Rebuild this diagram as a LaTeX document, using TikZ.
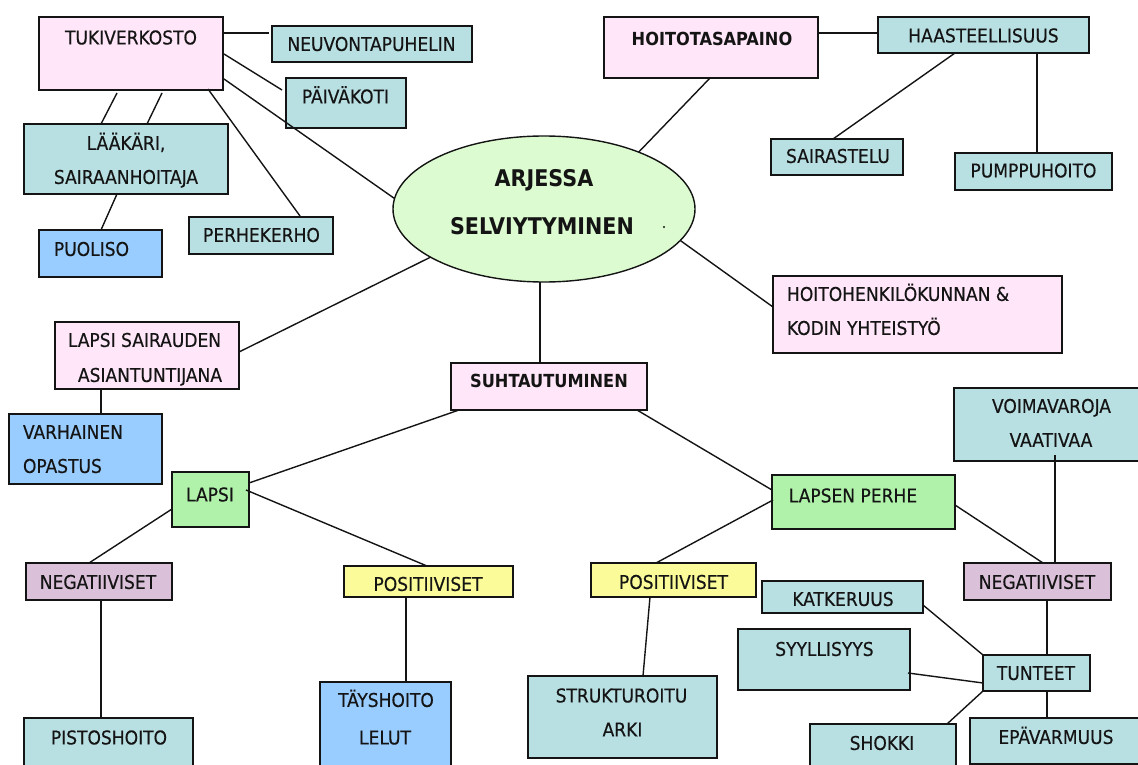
\documentclass[tikz,border=0pt]{standalone}
\usepackage{fontspec}
\setmainfont{DejaVu Sans Condensed}
\newfontfamily\regfont{DejaVu Sans Condensed}[FakeBold=0.35]
\usetikzlibrary{shapes.geometric,calc}
\definecolor{pinkc}{HTML}{FFE6F8}
\definecolor{tealc}{HTML}{B8DFE2}
\definecolor{bluec}{HTML}{99CCFF}
\definecolor{greenc}{HTML}{B0F2AA}
\definecolor{ellc}{HTML}{DDFBD0}
\definecolor{purplec}{HTML}{DBC0D9}
\definecolor{yellowc}{HTML}{FBFC99}
\definecolor{inkc}{HTML}{141414}
\tikzset{
  bxs/.style={draw=inkc, line width=1.7pt, rectangle, inner sep=0pt, outer sep=0pt},
  tx/.style={inner sep=0pt, outer sep=0pt, text height=13.85pt, text depth=0pt, text=inkc, font=\regfont\fontsize{19}{22}\selectfont},
  txb/.style={tx, text height=13.1pt, font=\fontsize{18}{22}\selectfont\bfseries},
  txbig/.style={tx, text height=16.8pt, font=\fontsize{23}{26}\selectfont\bfseries},
  con/.style={line width=1.4pt, draw=inkc},
}
\newcommand\bx[6]{\node[bxs,fill=#6,minimum width={#4-#2},minimum height={#5-#3}] (#1) at ({(#2+#4)/2},{(#3+#5)/2}) {};}
\newcommand\rel[3]{($(#1.north west)+(#2,#3)$)}
\begin{document}
\begin{tikzpicture}[x=1pt,y=-1pt]
\useasboundingbox (0,0) rectangle (1138,765);
% ---- boxes
\bx{tuki}{39}{17}{223}{90}{pinkc}
\bx{neuv}{272}{26}{472}{62}{tealc}
\bx{paiv}{286}{78}{406}{128}{tealc}
\bx{laak}{24}{124}{228}{194}{tealc}
\bx{puol}{39}{230}{162}{277}{bluec}
\bx{perhek}{189}{217}{333}{254}{tealc}
\bx{hoito}{604}{17}{818}{78}{pinkc}
\bx{haast}{878}{17}{1089}{53}{tealc}
\bx{sair}{771}{139}{903}{175}{tealc}
\bx{pump}{955}{153}{1112}{190}{tealc}
\bx{hoitoh}{773}{276}{1062}{353}{pinkc}
\bx{lapsis}{55}{322}{239}{389}{pinkc}
\bx{varh}{9}{414}{162}{484}{bluec}
\bx{suht}{451}{363}{647}{410}{pinkc}
\bx{lapsi}{172}{472}{249}{527}{greenc}
\bx{lperhe}{772}{475}{955}{529}{greenc}
\bx{voima}{954}{388}{1150}{461}{tealc}
\bx{negL}{26}{563}{172}{600}{purplec}
\bx{posL}{344}{566}{513}{597}{yellowc}
\bx{posR}{591}{563}{756}{597}{yellowc}
\bx{negR}{964}{563}{1111}{600}{purplec}
\bx{katk}{762}{581}{923}{613}{tealc}
\bx{syyl}{738}{629}{910}{690}{tealc}
\bx{tunt}{983}{655}{1090}{691}{tealc}
\bx{pisto}{24}{718}{193}{768}{tealc}
\bx{tays}{320}{682}{451}{768}{bluec}
\bx{strukt}{528}{676}{717}{758}{tealc}
\bx{shokki}{810}{724}{956}{768}{tealc}
\bx{epav}{970}{718}{1150}{764}{tealc}
\node[ellipse, draw=inkc, line width=1.4pt, fill=ellc, minimum width=302, minimum height=146, inner sep=0pt, outer sep=0pt] (ell) at (544,209) {};
\node[circle, fill=inkc, inner sep=0pt, minimum size=2.2pt] (dot) at (664,227) {};
% ---- connectors
\draw[con] \rel{tuki}{184}{16} -- \rel{neuv}{-3}{7};
\draw[con] \rel{tuki}{185}{37} -- \rel{paiv}{-4}{12};
\draw[con] \rel{tuki}{185}{62} -- (ell.176);
\draw[con] \rel{tuki}{169}{72} -- \rel{perhek}{111}{-1};
\draw[con] \rel{tuki}{78}{76} -- \rel{laak}{77}{0};
\draw[con] \rel{tuki}{123}{76} -- \rel{laak}{123}{0};
\draw[con] \rel{laak}{93}{70} -- \rel{puol}{62}{0};
\draw[con] \rel{hoito}{214}{16} -- \rel{haast}{0}{16};
\draw[con] \rel{hoito}{106}{61} -- (ell.31);
\draw[con] \rel{haast}{77}{36} -- \rel{sair}{62}{0};
\draw[con] \rel{haast}{159}{36} -- \rel{pump}{82}{0};
\draw[con] (ell.347) -- \rel{hoitoh}{0}{31};
\draw[con] (ell.203) -- \rel{lapsis}{184}{30};
\draw[con] \rel{lapsis}{46}{67} -- \rel{varh}{92}{0};
\draw[con] ($(ell.south)+(-4,0)$) -- \rel{suht}{89}{0};
\draw[con] \rel{suht}{8}{47} -- \rel{lapsi}{77}{11};
\draw[con] \rel{suht}{186}{47} -- \rel{lperhe}{0}{15};
\draw[con] \rel{lapsi}{0}{37} -- \rel{negL}{63}{0};
\draw[con] \rel{lapsi}{74}{18} -- \rel{posL}{83}{0};
\draw[con] \rel{negL}{75}{37} -- \rel{pisto}{77}{0};
\draw[con] \rel{posL}{62}{31} -- \rel{tays}{86}{0};
\draw[con] \rel{lperhe}{1}{25} -- \rel{posR}{65}{0};
\draw[con] \rel{lperhe}{183}{30} -- \rel{negR}{79}{0};
\draw[con] \rel{voima}{101}{67} -- \rel{negR}{91}{0};
\draw[con] \rel{posR}{59}{34} -- \rel{strukt}{115}{0};
\draw[con] \rel{negR}{83}{37} -- \rel{tunt}{64}{0};
\draw[con] \rel{katk}{161}{24} -- \rel{tunt}{0}{0};
\draw[con] \rel{syyl}{170}{44} -- \rel{tunt}{0}{28};
\draw[con] \rel{tunt}{0}{36} -- \rel{shokki}{137}{0};
\draw[con] \rel{tunt}{64}{36} -- \rel{epav}{77}{0};
% ---- texts
\node[tx] (tuki-t) at (131,37.5) {TUKIVERKOSTO};
\node[tx] (neuv-t) at (371.5,44) {NEUVONTAPUHELIN};
\node[tx] (paiv-t) at (345.5,96.5) {PÄIVÄKOTI};
\node[tx] (laak-t1) at (126,143) {LÄÄKÄRI,};
\node[tx] (laak-t2) at (126,177) {SAIRAANHOITAJA};
\node[tx] (puol-t) at (91.5,249) {PUOLISO};
\node[tx] (perhek-t) at (261.5,235) {PERHEKERHO};
\node[txbig] (ell-t1) at (544,178) {ARJESSA};
\node[txbig] (ell-t2) at (542,226) {SELVIYTYMINEN};
\node[txb] (hoito-t) at (712,38.5) {HOITOTASAPAINO};
\node[tx] (haast-t) at (983.5,35.5) {HAASTEELLISUUS};
\node[tx] (sair-t) at (838,156) {SAIRASTELU};
\node[tx] (pump-t) at (1033.5,170.5) {PUMPPUHOITO};
\node[tx,anchor=west] (hoitoh-t1) at (787,294) {HOITOHENKILÖKUNNAN \&};
\node[tx,anchor=west] (hoitoh-t2) at (787,328) {KODIN YHTEISTYÖ};
\node[tx] (lapsis-t1) at (144.5,340) {LAPSI SAIRAUDEN};
\node[tx] (lapsis-t2) at (150,375) {ASIANTUNTIJANA};
\node[tx,anchor=west] (varh-t1) at (23,432) {VARHAINEN};
\node[tx,anchor=west] (varh-t2) at (23,466) {OPASTUS};
\node[txb] (suht-t) at (549,381) {SUHTAUTUMINEN};
\node[tx] (lapsi-t) at (210,494.5) {LAPSI};
\node[tx] (lperhe-t) at (853,495.5) {LAPSEN PERHE};
\node[tx] (voima-t1) at (1051.5,406) {VOIMAVAROJA};
\node[tx] (voima-t2) at (1051,440) {VAATIVAA};
\node[tx] (negL-t) at (98,582) {NEGATIIVISET};
\node[tx] (posL-t) at (428,584) {POSITIIVISET};
\node[tx] (posR-t) at (673.5,582) {POSITIIVISET};
\node[tx] (negR-t) at (1037,582) {NEGATIIVISET};
\node[tx] (pisto-t) at (109,737.5) {PISTOSHOITO};
\node[tx] (tays-t1) at (386,700) {TÄYSHOITO};
\node[tx] (tays-t2) at (385,737.5) {LELUT};
\node[tx] (strukt-t1) at (621.5,695.5) {STRUKTUROITU};
\node[tx] (strukt-t2) at (622.5,729.5) {ARKI};
\node[tx] (katk-t) at (843,599) {KATKERUUS};
\node[tx] (syyl-t) at (824.5,649) {SYYLLISYYS};
\node[tx] (tunt-t) at (1036,673) {TUNTEET};
\node[tx] (shokki-t) at (882,743) {SHOKKI};
\node[tx] (epav-t) at (1056,737) {EPÄVARMUUS};
\end{tikzpicture}
\end{document}
